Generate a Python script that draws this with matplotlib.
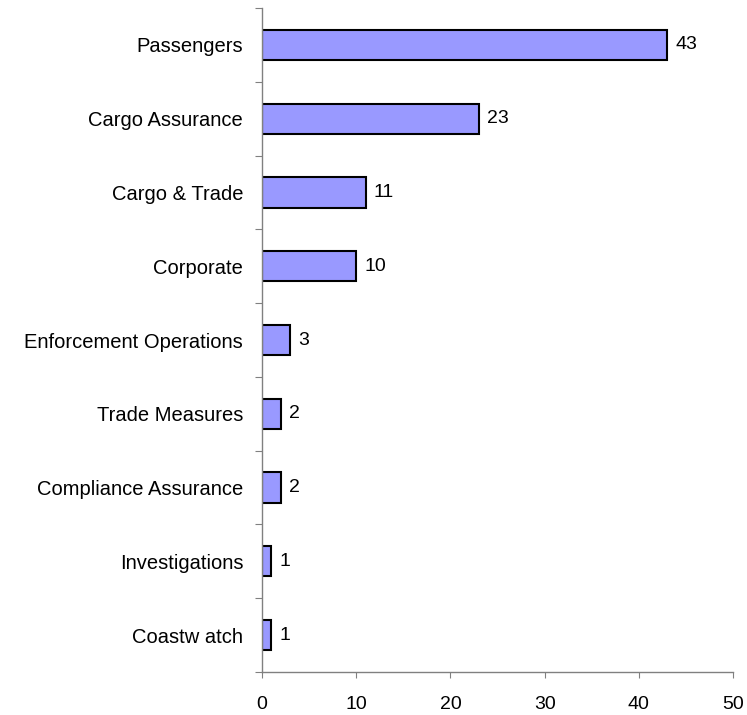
import matplotlib
matplotlib.use("Agg")
import matplotlib.pyplot as plt
import numpy as np

plt.rcParams['font.family'] = ['Liberation Sans', 'DejaVu Sans']

categories = ["Passengers", "Cargo Assurance", "Cargo & Trade", "Corporate",
              "Enforcement Operations", "Trade Measures", "Compliance Assurance",
              "Investigations", "Coastw atch"]
values = [43, 23, 11, 10, 3, 2, 2, 1, 1]
x_ticks = [0, 10, 20, 30, 40, 50]

FS = 14

fig = plt.figure(figsize=(7.47, 7.15), dpi=100)
ax = fig.add_axes([0.3507, 0.0601, 0.6306, 0.9287])

n = len(categories)
pos = np.arange(n)[::-1]  # first category on top
ax.barh(pos, values, height=0.41, color="#9999FF", edgecolor="black", linewidth=1.5)

for p, v in zip(pos, values):
    ax.text(v + 0.85, p, str(v), va="center", ha="left", fontsize=FS)

ax.set_xlim(0, 50)
ax.set_ylim(-0.5, n - 0.5)
ax.set_xticks(x_ticks)
ax.set_xticklabels([str(t) for t in x_ticks], fontsize=FS)

# boundary ticks as major, labels on minor ticks at the bar centres
ax.set_yticks(np.arange(n + 1) - 0.5)
ax.set_yticklabels([])
ax.set_yticks(pos, minor=True)
ax.set_yticklabels(categories, minor=True, fontsize=14.5)
ax.tick_params(axis="y", which="minor", length=0, pad=13.5)
ax.tick_params(axis="y", which="major", length=5, direction="out", color="#808080")
ax.tick_params(axis="x", length=4, direction="out", color="#808080", pad=13)

for s in ["top", "right"]:
    ax.spines[s].set_visible(False)
for s in ["left", "bottom"]:
    ax.spines[s].set_color("#808080")
    ax.spines[s].set_linewidth(1)

fig.savefig("out.png", dpi=100)
